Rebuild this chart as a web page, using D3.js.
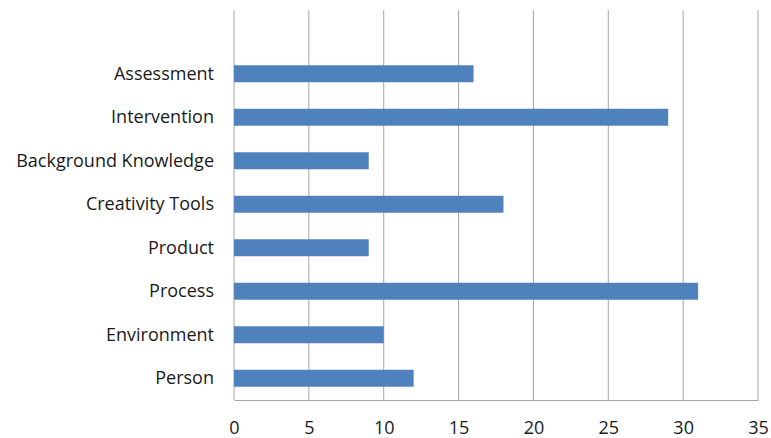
<!DOCTYPE html>
<html>
<head>
<meta charset="utf-8">
<script src="https://cdn.jsdelivr.net/npm/d3@7"></script>
<style>
  body { margin: 0; background: #fff; }
  svg text { font-family: "Open Sans", sans-serif; fill: #1a1a1a; }
</style>
</head>
<body>
<svg id="chart" width="771" height="438"></svg>
<script>
const categories = ['Assessment', 'Intervention', 'Background Knowledge', 'Creativity Tools',
  'Product', 'Process', 'Environment', 'Person'];
const counts = [16, 29, 9, 18, 9, 31, 10, 12];
const ticks = [0, 5, 10, 15, 20, 25, 30, 35];

const svg = d3.select('#chart');
const left = 234, right = 758, gridTop = 10, bottom = 400, bandTop = 52;

const x = d3.scaleLinear().domain([0, 35]).range([left, right]);
const y = d3.scaleBand().domain(categories).range([bandTop, bottom]).paddingInner(0.61).paddingOuter(0.305);

// gridlines
svg.append('g')
  .selectAll('line')
  .data(ticks)
  .enter()
  .append('line')
  .attr('x1', d => x(d)).attr('x2', d => x(d))
  .attr('y1', gridTop).attr('y2', bottom)
  .attr('stroke', '#a6a6a6')
  .attr('stroke-width', 1);

// bottom axis
const xAxis = svg.append('g')
  .attr('transform', 'translate(0,' + bottom + ')')
  .call(d3.axisBottom(x).tickValues(ticks).tickSize(0).tickPadding(21));
xAxis.select('.domain').attr('stroke', '#a6a6a6');
xAxis.selectAll('text').style('font-size', '18px').attr('fill', '#1a1a1a');

// bars
svg.append('g')
  .selectAll('rect')
  .data(categories)
  .enter()
  .append('rect')
  .attr('x', x(0))
  .attr('y', d => y(d))
  .attr('width', (d, i) => x(counts[i]) - x(0))
  .attr('height', y.bandwidth())
  .attr('fill', '#4f81bd');

// category labels
const yAxis = svg.append('g')
  .attr('transform', 'translate(' + left + ',0)')
  .call(d3.axisLeft(y).tickSize(0).tickPadding(20));
yAxis.select('.domain').remove();
yAxis.selectAll('text').style('font-size', '18px').attr('fill', '#1a1a1a');
</script>
</body>
</html>
